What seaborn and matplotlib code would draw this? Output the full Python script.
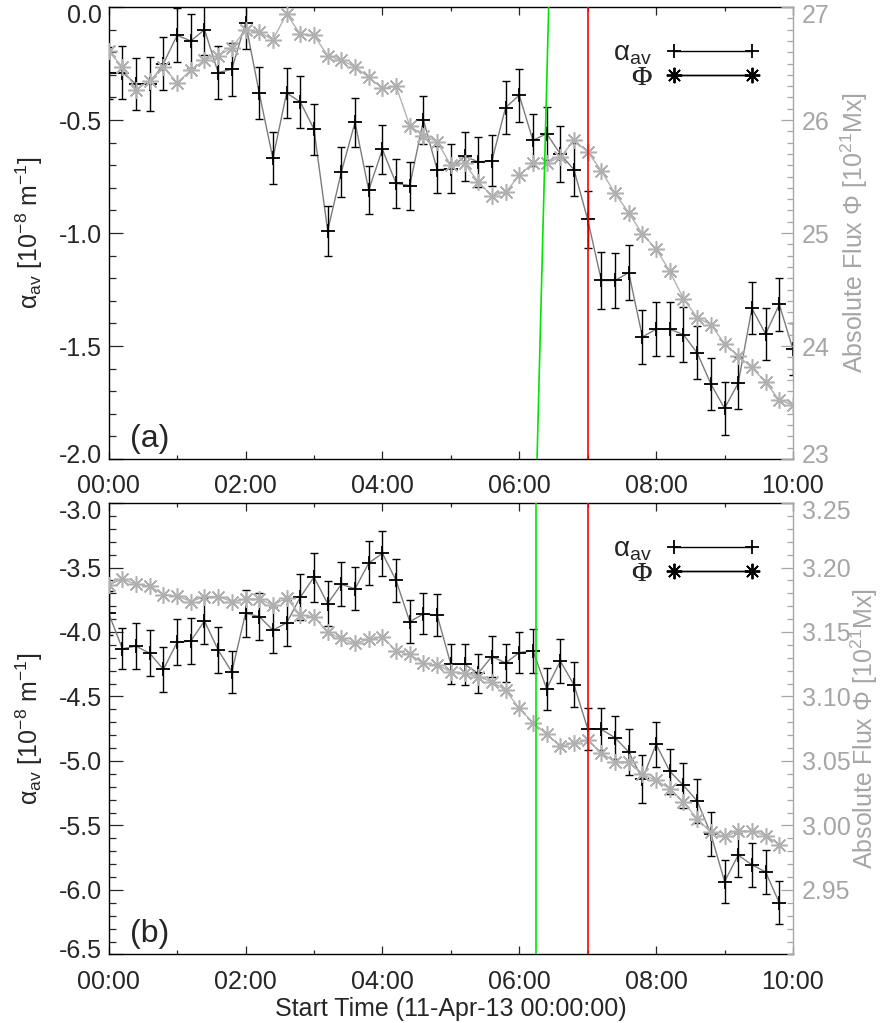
import numpy as np
import pandas as pd
import matplotlib
matplotlib.use("Agg")
import matplotlib.pyplot as plt
from matplotlib.lines import Line2D
from matplotlib.ticker import FixedLocator, MultipleLocator, FuncFormatter
from matplotlib.transforms import ScaledTranslation
import seaborn as sns

# Sample times: 12-minute cadence, hours after 11-Apr-13 00:00:00
hours_a = np.arange(51) * 0.2
hours_b = np.arange(50) * 0.2

# Panel (a): mean twist alpha_av [1e-8 1/m], its error, absolute flux [1e21 Mx]
alpha_a = [-0.29, -0.29, -0.34, -0.34, -0.25, -0.125, -0.15, -0.10, -0.29, -0.275,
           -0.07, -0.38, -0.67, -0.38, -0.42, -0.54, -0.99, -0.73, -0.51, -0.81,
           -0.63, -0.78, -0.79, -0.50, -0.72, -0.715, -0.66, -0.685, -0.68, -0.445,
           -0.39, -0.59, -0.56, -0.65, -0.72, -0.94, -1.21, -1.21, -1.175, -1.46,
           -1.425, -1.425, -1.45, -1.53, -1.668, -1.776, -1.664, -1.333, -1.447, -1.316,
           -1.515]
alpha_a_err = [0.115, 0.116, 0.116, 0.118, 0.116, 0.119, 0.118, 0.111, 0.116, 0.117,
               0.115, 0.114, 0.115, 0.112, 0.113, 0.113, 0.111, 0.111, 0.109, 0.107,
               0.107, 0.107, 0.106, 0.107, 0.105, 0.109, 0.109, 0.111, 0.112, 0.117,
               0.118, 0.115, 0.118, 0.124, 0.118, 0.124, 0.126, 0.121, 0.120, 0.120,
               0.118, 0.118, 0.121, 0.118, 0.115, 0.116, 0.115, 0.115, 0.116, 0.117,
               0.115]
flux_a = [26.61, 26.47, 26.27, 26.35, 26.47, 26.33, 26.44, 26.53, 26.57, 26.64,
          26.80, 26.78, 26.71, 26.94, 26.76, 26.75, 26.57, 26.53, 26.47, 26.38,
          26.28, 26.30, 25.95, 25.86, 25.81, 25.60, 25.62, 25.45, 25.33, 25.36,
          25.51, 25.62, 25.62, 25.67, 25.82, 25.72, 25.55, 25.35, 25.18, 24.99,
          24.86, 24.66, 24.42, 24.25, 24.19, 24.02, 23.91, 23.81, 23.68, 23.52,
          23.48]

# Panel (b)
alpha_b = [-3.855, -4.13, -4.11, -4.165, -4.29, -4.08, -4.07, -3.915, -4.14, -4.31,
           -3.855, -3.88, -3.985, -3.93, -3.73, -3.575, -3.78, -3.63, -3.665, -3.466,
           -3.39, -3.60, -3.92, -3.86, -3.87, -4.25, -4.25, -4.32, -4.19, -4.24,
           -4.16, -4.145, -4.44, -4.225, -4.41, -4.75, -4.755, -4.82, -4.93, -5.14,
           -4.87, -5.08, -5.19, -5.31, -5.565, -5.935, -5.73, -5.805, -5.86, -6.10]
alpha_b_err = [0.17, 0.16, 0.18, 0.179, 0.175, 0.179, 0.179, 0.175, 0.176, 0.162,
               0.184, 0.181, 0.176, 0.177, 0.179, 0.19, 0.177, 0.172, 0.168, 0.168,
               0.174, 0.168, 0.165, 0.159, 0.161, 0.155, 0.159, 0.152, 0.159, 0.148,
               0.158, 0.172, 0.162, 0.172, 0.175, 0.163, 0.162, 0.168, 0.175, 0.183,
               0.175, 0.175, 0.171, 0.168, 0.168, 0.168, 0.168, 0.171, 0.171, 0.166]
flux_b = [3.1865, 3.1909, 3.187, 3.1857, 3.1788, 3.178, 3.1736, 3.1775, 3.1775, 3.1736,
          3.1754, 3.1754, 3.171, 3.1762, 3.1632, 3.1619, 3.1497, 3.145, 3.1412, 3.1443,
          3.1464, 3.1352, 3.1326, 3.1256, 3.1244, 3.1192, 3.1179, 3.1153, 3.1114, 3.1049,
          3.0907, 3.0798, 3.0707, 3.0614, 3.064, 3.0661, 3.0562, 3.0492, 3.0492, 3.0396,
          3.035, 3.0285, 3.0181, 3.0052, 2.9948, 2.9915, 2.9956, 2.9956, 2.9922, 2.9852]

# Event markers (hours)
green_a = [6.26, 6.43]      # slanted marker: bottom and top of panel (a)
green_b = 6.25
red_time = 7.0

# Axis ticks
xticks_major = [0, 2, 4, 6, 8, 10]
xticks_minor = [1, 3, 5, 7, 9]
yticks_a = [-2.0, -1.5, -1.0, -0.5, 0.0]
fticks_a = [23, 24, 25, 26, 27]
yticks_b = [-6.5, -6.0, -5.5, -5.0, -4.5, -4.0, -3.5, -3.0]
fticks_b = [2.95, 3.00, 3.05, 3.10, 3.15, 3.20, 3.25]

sns.set_style("ticks")
plt.rcParams["font.family"] = ["Liberation Sans", "DejaVu Sans"]
plt.rcParams["mathtext.fontset"] = "custom"
plt.rcParams["mathtext.rm"] = "Liberation Sans"
plt.rcParams["mathtext.it"] = "Liberation Sans:italic"
plt.rcParams["axes.unicode_minus"] = False
plt.rcParams["axes.linewidth"] = 1.0

GREY = "#a6a6a6"
LINE_DARK = "#7c7c7c"
ASTER = (8, 2, 0)
FS = 18

fig = plt.figure(figsize=(8.8, 10.23), dpi=100)


def hhmm(v, pos=None):
    return f"{int(round(v)):02d}:00"


def draw_panel(rect, hours, alpha, err, flux, ylim, flim, yticks, fticks,
               ffmt, ymin_step, fmin_step, tag, flabel_x):
    ax = fig.add_axes(rect)
    df = pd.DataFrame({"hours": hours, "alpha": alpha, "err": err, "flux": flux})

    sns.lineplot(data=df, x="hours", y="alpha", ax=ax, color=LINE_DARK, lw=1.0,
                 marker="+", ms=10, mec="k", mew=1.3, estimator=None, sort=False,
                 zorder=3)
    ax.errorbar(df["hours"], df["alpha"], yerr=df["err"], fmt="none", ecolor="k",
                elinewidth=1.0, capsize=3.2, capthick=1.0, zorder=4)

    ax.set_xlim(0, 10)
    ax.set_ylim(*ylim)
    ax.xaxis.set_major_locator(FixedLocator(xticks_major))
    ax.xaxis.set_minor_locator(FixedLocator(xticks_minor))
    ax.xaxis.set_major_formatter(FuncFormatter(hhmm))
    ax.yaxis.set_major_locator(FixedLocator(yticks))
    ax.yaxis.set_minor_locator(MultipleLocator(ymin_step))
    ax.yaxis.set_major_formatter(FuncFormatter(lambda v, p: f"{v:.1f}".replace("-0.0", "0.0")))
    ax.tick_params(axis="x", which="major", direction="in", length=6, width=0.9,
                   top=True, labelsize=FS, pad=11)
    ax.tick_params(axis="x", which="minor", direction="in", length=3, width=0.9, top=True)
    ax.tick_params(axis="y", which="major", direction="in", length=10, width=0.9,
                   labelsize=FS, pad=5, right=False)
    ax.tick_params(axis="y", which="minor", direction="in", length=5, width=0.9, right=False)
    ax.set_xlabel("")
    ax.set_ylabel(r"α$_{\rm av}$ [10$^{-8}$ m$^{-1}$]", fontsize=FS)
    ax.yaxis.set_label_coords(-0.093, 0.5)
    ax.spines["right"].set_visible(False)
    for s in ("left", "top", "bottom"):
        ax.spines[s].set_color("k")

    ax.text(0.031, 0.027, tag, transform=ax.transAxes, fontsize=23,
            ha="left", va="baseline")

    ax2 = ax.twinx()
    sns.lineplot(data=df, x="hours", y="flux", ax=ax2, color="#b3b3b3", lw=1.0,
                 marker=ASTER, ms=12, mec="#b0b0b0", mew=1.1, estimator=None,
                 sort=False, zorder=3)
    ax2.set_xlim(0, 10)
    ax2.set_ylim(*flim)
    ax2.yaxis.set_major_locator(FixedLocator(fticks))
    ax2.yaxis.set_minor_locator(MultipleLocator(fmin_step))
    ax2.yaxis.set_major_formatter(FuncFormatter(lambda v, p: ffmt.format(v)))
    ax2.tick_params(axis="y", which="major", direction="in", length=8.5, width=0.9,
                    labelsize=FS, pad=6.5, colors=GREY)
    ax2.tick_params(axis="y", which="minor", direction="in", length=4.3, width=0.9,
                    colors=GREY)
    ax2.spines["right"].set_color(GREY)
    ax2.spines["right"].set_linewidth(1.0)
    for s in ("left", "top", "bottom"):
        ax2.spines[s].set_visible(False)
    ax2.set_xlabel("")
    ax2.set_ylabel(r"Absolute Flux Φ [10$^{21}$Mx]", fontsize=FS, color=GREY)
    ax2.yaxis.set_label_coords(flabel_x, 0.5)

    # legend entries, each right-aligned at the end of its sample line
    h_alpha = Line2D([], [], color="k", lw=1.0, marker="+", ms=10, mew=1.3)
    h_flux = Line2D([], [], color="k", lw=1.0, marker=ASTER, ms=11, mew=1.2)
    for h, lab, yc, fam in ((h_alpha, r"α$_{\rm av}$", 0.897, "Liberation Sans"),
                            (h_flux, "Φ", 0.842, "Liberation Serif")):
        leg = ax2.legend([h], [lab], loc="center right", bbox_to_anchor=(0.952, yc),
                         markerfirst=False, frameon=False, numpoints=2,
                         handlelength=3.4, handletextpad=0.5, fontsize=20,
                         borderpad=0, borderaxespad=0)
        for t in leg.get_texts():
            t.set_family([fam, "DejaVu Sans"])
        ax2.add_artist(leg)
    return ax, ax2


rect_a = [0.1235, 0.5513, 0.7776, 0.4418]
rect_b = [0.1235, 0.0670, 0.7776, 0.4413]

ax_a, ax2_a = draw_panel(rect_a, hours_a, alpha_a, alpha_a_err, flux_a,
                         (-2.0, 0.0), (23.0, 27.0), yticks_a, fticks_a,
                         "{:.0f}", 0.1, 0.1, "(a)", 1.066)
ax_b, ax2_b = draw_panel(rect_b, hours_b, alpha_b, alpha_b_err, flux_b,
                         (-6.5, -3.0), (2.90, 3.25), yticks_b, fticks_b,
                         "{:.2f}", 0.1, 0.01, "(b)", 1.082)

# flare markers, drawn on top of both series
ax2_a.plot(green_a, ax2_a.get_ylim(), color="#00e600", lw=1.2, zorder=6, clip_on=True)
ax2_a.axvline(red_time, color="#ff0000", lw=1.2, zorder=6)
ax2_b.axvline(green_b, color="#00e600", lw=1.2, zorder=6)
ax2_b.axvline(red_time, color="#ff0000", lw=1.2, zorder=6)

ax_b.set_xlabel("Start Time (11-Apr-13 00:00:00)", fontsize=FS, labelpad=2)

# nudge the end labels of each y axis inward, away from the frame corners
fig.canvas.draw()
down = ScaledTranslation(0, -0.065, fig.dpi_scale_trans)
up = ScaledTranslation(0, 0.06, fig.dpi_scale_trans)
for axis, lo_at_edge in ((ax_a.yaxis, True), (ax2_a.yaxis, True),
                         (ax_b.yaxis, True), (ax2_b.yaxis, False)):
    labs = axis.get_majorticklabels()
    labs[-1].set_transform(labs[-1].get_transform() + down)
    if lo_at_edge:
        labs[0].set_transform(labs[0].get_transform() + up)

fig.savefig("out.png", dpi=100)
